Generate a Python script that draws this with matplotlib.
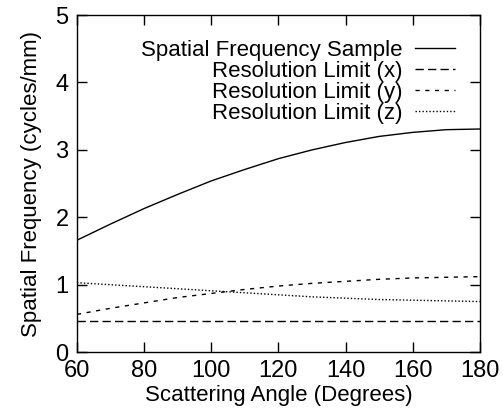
import matplotlib
matplotlib.use("Agg")
import matplotlib.pyplot as plt

# scattering angle (degrees)
angle = [60, 70, 80, 90, 100, 110, 120, 130, 140, 150, 160, 170, 180]

# spatial frequency (cycles/mm)
freq_sample = [1.66, 1.90, 2.13, 2.34, 2.54, 2.71, 2.87, 3.00, 3.11, 3.20, 3.26, 3.30, 3.31]
res_x = [0.46, 0.46, 0.46, 0.46, 0.46, 0.46, 0.46, 0.46, 0.46, 0.46, 0.46, 0.46, 0.46]
res_y = [0.56, 0.65, 0.73, 0.81, 0.87, 0.93, 0.98, 1.02, 1.05, 1.08, 1.10, 1.11, 1.12]
res_z = [1.03, 1.00, 0.97, 0.94, 0.91, 0.88, 0.85, 0.82, 0.80, 0.78, 0.77, 0.76, 0.75]

plt.rcParams['font.family'] = ['Liberation Sans', 'DejaVu Sans']
plt.rcParams['font.size'] = 16

fig = plt.figure(figsize=(5.03, 4.08), dpi=100)
ax = fig.add_axes([0.153, 0.137, 0.801, 0.826])

lw = 1.0
ax.plot(angle, freq_sample, color='black', lw=lw, ls='-', label='Spatial Frequency Sample')
ax.plot(angle, res_x, color='black', lw=lw, ls=(0, (6, 3)), label='Resolution Limit (x)')
ax.plot(angle, res_y, color='black', lw=lw, ls=(0, (3, 4)), label='Resolution Limit (y)')
ax.plot(angle, res_z, color='black', lw=lw, ls=(0, (1, 1.5)), label='Resolution Limit (z)')

ax.set_xlim(60, 180)
ax.set_ylim(0, 5)
ax.set_xticks([60, 80, 100, 120, 140, 160, 180])
ax.set_yticks([0, 1, 2, 3, 4, 5])
ax.tick_params(direction='in', length=7, width=1, top=True, right=True, pad=6, labelsize=17)
for s in ax.spines.values():
    s.set_linewidth(1)

ax.set_xlabel('Scattering Angle (Degrees)', labelpad=2)
ax.set_ylabel('Spatial Frequency (cycles/mm)', labelpad=10)

ax.legend(loc='upper right', frameon=False, markerfirst=False, handlelength=1.8,
          handletextpad=0.6, labelspacing=0.0, borderaxespad=0.7)

fig.savefig('out.png', dpi=100)
